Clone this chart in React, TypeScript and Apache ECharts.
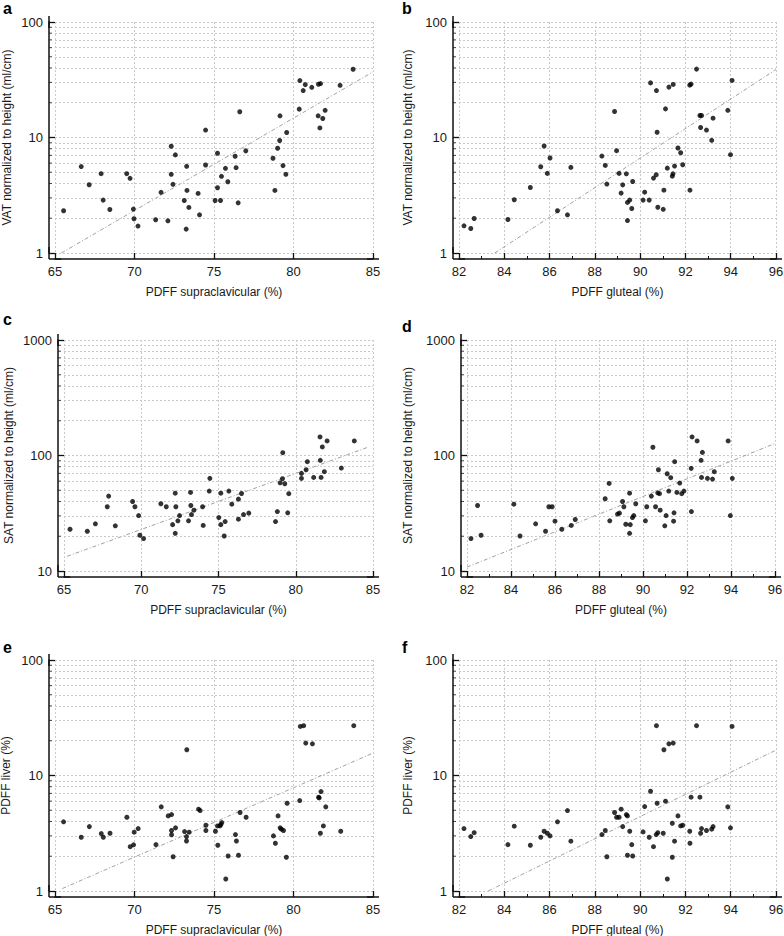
import React, { useEffect, useRef } from 'react';
import * as echarts from 'echarts';

const FONT = '"Liberation Sans", Arial, Helvetica, sans-serif';

// ---- Panel a: PDFF supraclavicular vs VAT ----
const aX = [65.54, 66.65, 67.15, 67.9, 68.03, 68.45, 69.51, 69.72, 69.93, 69.97, 70.22, 71.33, 71.67, 72.1, 72.31, 72.31, 72.42, 72.57, 73.13, 73.28, 73.3, 73.25, 73.42, 74.0, 74.09, 74.47, 74.47, 75.07, 75.22, 75.22, 75.41, 75.47, 75.72, 75.87, 76.33, 76.39, 76.52, 76.62, 77.0, 78.71, 78.83, 79.0, 79.13, 79.15, 79.34, 79.52, 79.57, 80.36, 80.4, 80.61, 80.74, 81.15, 81.55, 81.57, 81.7, 81.66, 81.84, 81.99, 82.93, 83.75];
const aY = [2.32, 5.6, 3.9, 4.86, 2.87, 2.38, 4.86, 4.43, 2.4, 1.98, 1.71, 1.94, 3.35, 1.9, 8.4, 4.8, 3.93, 7.07, 2.85, 5.63, 3.48, 1.61, 2.48, 3.28, 2.14, 11.6, 5.78, 2.85, 7.31, 3.67, 2.85, 4.61, 5.41, 4.14, 6.88, 5.48, 2.72, 16.7, 7.66, 6.61, 3.48, 8.07, 9.42, 15.4, 5.71, 4.8, 11.05, 17.6, 31.1, 25.5, 28.7, 27.2, 15.4, 28.9, 29.3, 12.1, 14.6, 17.2, 28.3, 39.0];
const aFitX = [65.4, 85];
const aFitY = [1.0, 37];

// ---- Panel b: PDFF gluteal vs VAT ----
const bX = [82.22, 82.52, 82.67, 84.16, 84.44, 85.15, 85.61, 85.76, 85.9, 86.02, 86.35, 86.79, 86.94, 88.31, 88.46, 88.53, 88.87, 88.96, 89.07, 89.16, 89.23, 89.39, 89.44, 89.44, 89.54, 89.67, 89.63, 90.13, 90.2, 90.4, 90.46, 90.59, 90.71, 90.72, 90.75, 90.78, 91.02, 91.05, 91.12, 91.2, 91.27, 91.42, 91.45, 91.46, 91.52, 91.67, 91.79, 91.88, 92.19, 92.2, 92.25, 92.49, 92.64, 92.67, 92.71, 92.93, 93.16, 93.22, 93.87, 93.99, 94.06];
const bY = [1.72, 1.63, 1.99, 1.95, 2.89, 3.69, 5.58, 8.44, 4.89, 6.64, 2.32, 2.14, 5.51, 6.91, 5.73, 3.95, 16.8, 7.69, 4.89, 3.3, 3.89, 4.85, 2.74, 1.91, 2.87, 4.16, 2.43, 2.87, 3.36, 2.87, 29.7, 4.45, 4.76, 25.5, 11.1, 2.49, 2.39, 3.5, 17.7, 5.43, 27.3, 4.63, 4.85, 28.8, 5.66, 8.11, 7.38, 5.81, 28.4, 3.5, 29.0, 39.1, 15.5, 12.2, 15.5, 11.6, 9.45, 14.7, 17.2, 7.1, 31.2];
const bFitX = [83.58, 96];
const bFitY = [1.0, 38.8];

// ---- Panel c: PDFF supraclavicular vs SAT ----
const cX = [65.39, 66.51, 67.03, 67.8, 67.89, 68.32, 69.44, 69.59, 69.83, 69.91, 70.15, 71.27, 71.62, 72.03, 72.2, 72.24, 72.2, 72.37, 72.48, 73.06, 73.19, 73.21, 73.25, 73.41, 73.97, 74.01, 74.4, 74.44, 75.02, 75.15, 75.15, 75.37, 75.43, 75.67, 75.86, 76.29, 76.29, 76.49, 76.62, 76.96, 78.69, 78.81, 78.99, 79.14, 79.16, 79.29, 79.48, 79.55, 80.37, 80.37, 80.67, 80.75, 81.16, 81.57, 81.59, 81.64, 81.72, 81.85, 82.03, 82.95, 83.79];
const cY = [23.0, 22.1, 25.6, 36.0, 44.5, 24.6, 40.0, 36.0, 30.2, 20.4, 19.1, 38.2, 36.0, 25.2, 47.2, 36.0, 21.2, 27.2, 30.2, 27.2, 47.9, 36.9, 30.8, 33.6, 36.0, 24.8, 49.2, 63.4, 29.0, 47.2, 25.2, 20.1, 26.8, 49.2, 37.9, 28.1, 41.9, 46.9, 30.8, 31.7, 26.8, 32.7, 58.0, 62.9, 105.8, 56.9, 31.9, 46.7, 63.4, 70.0, 75.3, 88.4, 64.6, 144.8, 90.8, 64.6, 118.6, 72.4, 133.7, 77.8, 133.7];
const cFitX = [65.2, 84.6];
const cFitY = [13.4, 117];

// ---- Panel d: PDFF gluteal vs SAT ----
const dX = [82.18, 82.48, 82.64, 84.13, 84.41, 85.12, 85.57, 85.72, 85.87, 86.0, 86.31, 86.74, 86.92, 88.28, 88.46, 88.49, 88.84, 88.93, 89.07, 89.13, 89.22, 89.39, 89.42, 89.39, 89.52, 89.58, 89.67, 90.11, 90.17, 90.38, 90.45, 90.57, 90.67, 90.7, 90.75, 90.78, 90.99, 91.05, 91.1, 91.17, 91.26, 91.39, 91.41, 91.44, 91.54, 91.67, 91.76, 91.86, 92.19, 92.2, 92.23, 92.46, 92.64, 92.66, 92.7, 92.93, 93.16, 93.24, 93.87, 93.97, 94.06];
const dY = [19.1, 36.9, 20.4, 37.9, 20.1, 25.6, 22.1, 36.0, 36.0, 27.0, 23.0, 24.8, 27.9, 42.2, 57.3, 27.2, 31.1, 31.7, 40.0, 36.0, 25.4, 47.2, 25.2, 21.2, 29.0, 30.2, 38.2, 27.2, 36.0, 44.5, 117.8, 36.0, 47.5, 75.3, 46.7, 33.6, 24.6, 30.2, 69.5, 49.2, 64.3, 27.0, 31.9, 88.4, 47.9, 57.7, 46.7, 49.2, 77.4, 32.7, 144.8, 133.7, 90.8, 64.6, 106.4, 63.4, 62.5, 72.4, 133.7, 30.2, 63.4];
const dFitX = [82.0, 96];
const dFitY = [10.8, 127];

// ---- Panel e: PDFF supraclavicular vs PDFF liver ----
const eX = [65.54, 66.65, 67.16, 67.91, 68.04, 68.46, 69.52, 69.73, 69.94, 69.98, 70.23, 71.35, 71.68, 72.12, 72.33, 72.33, 72.33, 72.43, 72.58, 73.15, 73.29, 73.27, 73.27, 73.44, 74.03, 74.13, 74.49, 74.49, 75.09, 75.24, 75.22, 75.37, 75.43, 75.49, 75.74, 75.89, 76.54, 76.64, 76.35, 76.41, 77.02, 78.74, 78.86, 79.03, 79.16, 79.24, 79.37, 79.55, 79.6, 80.39, 80.43, 80.64, 80.77, 81.19, 81.58, 81.61, 81.73, 81.69, 81.88, 82.03, 82.97, 83.79];
const eY = [3.97, 2.92, 3.61, 3.14, 2.92, 3.16, 4.35, 2.42, 2.51, 3.23, 3.47, 2.52, 5.35, 4.47, 4.59, 3.34, 3.07, 1.98, 3.52, 3.27, 16.7, 2.96, 2.71, 3.23, 5.11, 4.97, 3.71, 3.34, 3.29, 2.49, 3.66, 3.66, 3.76, 3.91, 1.27, 2.01, 2.04, 4.78, 3.08, 2.71, 4.35, 3.0, 2.59, 4.47, 3.52, 3.43, 3.34, 1.96, 5.75, 6.07, 26.6, 27.0, 19.1, 18.8, 6.49, 6.4, 7.26, 3.16, 3.66, 5.35, 3.29, 27.0];
const eFitX = [65.46, 84.94];
const eFitY = [1.05, 15.5];

// ---- Panel f: PDFF gluteal vs PDFF liver ----
const fX = [82.22, 82.52, 82.67, 84.16, 84.44, 85.15, 85.61, 85.76, 85.9, 86.02, 86.35, 86.79, 86.94, 88.31, 88.46, 88.53, 88.87, 88.96, 89.07, 89.16, 89.23, 89.39, 89.44, 89.44, 89.54, 89.63, 89.67, 90.13, 90.2, 90.4, 90.46, 90.59, 90.71, 90.72, 90.75, 90.78, 91.02, 91.05, 91.12, 91.2, 91.27, 91.42, 91.42, 91.46, 91.52, 91.67, 91.79, 91.88, 92.19, 92.2, 92.25, 92.49, 92.64, 92.67, 92.71, 92.93, 93.16, 93.22, 93.87, 93.99, 94.06];
const fY = [3.47, 2.96, 3.2, 2.52, 3.64, 2.49, 2.92, 3.29, 3.16, 3.0, 3.97, 4.97, 2.7, 3.08, 3.34, 1.98, 4.78, 4.35, 4.35, 5.11, 3.61, 4.59, 4.47, 2.04, 3.29, 2.52, 2.01, 3.25, 5.38, 2.92, 7.31, 2.42, 3.08, 27.0, 5.75, 3.2, 3.16, 16.7, 5.99, 1.27, 18.8, 3.86, 1.96, 19.1, 2.7, 4.47, 3.66, 3.71, 3.29, 2.59, 6.49, 27.0, 6.49, 3.16, 3.47, 3.34, 3.43, 3.61, 5.35, 3.52, 26.6];
const fFitX = [83.29, 96];
const fFitY = [1.0, 16.6];

// ---- Axis ranges / labels ----
const supraRange = [65, 85];
const supraStep = 5;
const glutealRange = [82, 96];
const glutealStep = 2;
const vatRange = [1, 100];
const satRange = [10, 1000];
const liverRange = [1, 100];
const xNameSupra = 'PDFF supraclavicular (%)';
const xNameGluteal = 'PDFF gluteal (%)';
const yNameVat = 'VAT normalized to height (ml/cm)';
const yNameSat = 'SAT normalized to height (ml/cm)';
const yNameLiver = 'PDFF liver (%)';
const panelLetters = ['a', 'b', 'c', 'd', 'e', 'f'];

const panels = [
  { x: aX, y: aY, fx: aFitX, fy: aFitY, xr: supraRange, xs: supraStep, yr: vatRange, xn: xNameSupra, yn: yNameVat, minor: false,
    grid: { left: 55, top: 22, width: 318, height: 231 }, yGap: 36, lx: 3, ly: 16 },
  { x: bX, y: bY, fx: bFitX, fy: bFitY, xr: glutealRange, xs: glutealStep, yr: vatRange, xn: xNameGluteal, yn: yNameVat, minor: true,
    grid: { left: 459, top: 22, width: 317, height: 231 }, yGap: 39, lx: 402, ly: 16 },
  { x: cX, y: cY, fx: cFitX, fy: cFitY, xr: supraRange, xs: supraStep, yr: satRange, xn: xNameSupra, yn: yNameSat, minor: false,
    grid: { left: 64, top: 340, width: 309, height: 231 }, yGap: 43, lx: 3, ly: 327 },
  { x: dX, y: dY, fx: dFitX, fy: dFitY, xr: glutealRange, xs: glutealStep, yr: satRange, xn: xNameGluteal, yn: yNameSat, minor: true,
    grid: { left: 467, top: 340, width: 308, height: 231 }, yGap: 47, lx: 402, ly: 334 },
  { x: eX, y: eY, fx: eFitX, fy: eFitY, xr: supraRange, xs: supraStep, yr: liverRange, xn: xNameSupra, yn: yNameLiver, minor: false,
    grid: { left: 55, top: 660, width: 318, height: 231 }, yGap: 37, lx: 3, ly: 655 },
  { x: fX, y: fY, fx: fFitX, fy: fFitY, xr: glutealRange, xs: glutealStep, yr: liverRange, xn: xNameGluteal, yn: yNameLiver, minor: true,
    grid: { left: 459, top: 660, width: 317, height: 231 }, yGap: 39, lx: 402, ly: 655 },
];

const TEXT = '#1a1a1a';
const AXIS = '#111';
const GRIDC = '#c9c9c9';

function minorValues(range: number[]) {
  const out: number[] = [];
  for (let d = range[0]; d < range[1]; d *= 10) {
    for (let k = 2; k <= 9; k++) out.push(d * k);
  }
  return out;
}

export default function App() {
  const ref = useRef<HTMLDivElement>(null);
  useEffect(() => {
    if (!ref.current) return;
    const chart = echarts.init(ref.current, undefined, { renderer: 'svg' });
    const axisLine = {
      show: true,
      onZero: false,
      symbol: ['rect', 'rect'],
      symbolSize: [1.5, 12],
      lineStyle: { color: AXIS, width: 1.5 },
    };
    const splitLine = { show: true, lineStyle: { color: GRIDC, type: [2, 2], width: 1 } };
    const series: any[] = [];
    panels.forEach((p, i) => {
      series.push({
        type: 'scatter',
        xAxisIndex: i,
        yAxisIndex: i,
        data: p.x.map((v, k) => [v, p.y[k]]),
        symbol: 'circle',
        symbolSize: 5,
        itemStyle: { color: '#000' },
        z: 5,
        silent: true,
      });
      series.push({
        type: 'line',
        xAxisIndex: i,
        yAxisIndex: i,
        data: p.fx.map((v, k) => [v, p.fy[k]]),
        showSymbol: false,
        symbol: 'none',
        lineStyle: { color: '#a0a0a0', width: 1, type: [4, 2, 1, 2] },
        z: 4,
        silent: true,
      });
      const mv = minorValues(p.yr);
      series.push({
        type: 'scatter',
        xAxisIndex: i,
        yAxisIndex: i,
        data: mv.map((v) => [p.xr[0], v]),
        symbol: 'rect',
        symbolSize: [3, 1],
        symbolOffset: [-4.5, 0],
        itemStyle: { color: AXIS },
        clip: false,
        silent: true,
        z: 6,
        markLine: {
          silent: true,
          symbol: 'none',
          label: { show: false },
          lineStyle: { color: GRIDC, type: [2, 2], width: 1 },
          data: mv.map((v) => ({ yAxis: v })),
          animation: false,
        },
      });
    });
    const option: any = {
      animation: false,
      grid: panels.map((p) => ({ ...p.grid, containLabel: false, outerBoundsMode: 'none' })),
      xAxis: panels.map((p, i) => ({
        gridIndex: i,
        type: 'value',
        min: p.xr[0],
        max: p.xr[1],
        interval: p.xs,
        offset: 6,
        axisLine,
        axisTick: { show: true, inside: true, length: 6, lineStyle: { color: AXIS, width: 1.3 } },
        minorTick: { show: p.minor, splitNumber: 2, length: 3, lineStyle: { color: AXIS, width: 1 } },
        axisLabel: { margin: 6, fontSize: 13, color: TEXT, fontFamily: FONT },
        splitLine,
        name: p.xn,
        nameLocation: 'middle',
        nameGap: 27,
        nameTextStyle: { fontSize: 12, color: TEXT, fontFamily: FONT },
      })),
      yAxis: panels.map((p, i) => ({
        gridIndex: i,
        type: 'log',
        logBase: 10,
        min: p.yr[0],
        max: p.yr[1],
        offset: 6,
        axisLine,
        axisTick: { show: true, inside: true, length: 6, lineStyle: { color: AXIS, width: 1.3 } },
        axisLabel: {
          margin: 6,
          fontSize: 13,
          color: TEXT,
          fontFamily: FONT,
          formatter: (v: number) => String(Math.round(v)),
        },
        splitLine,
        name: p.yn,
        nameLocation: 'middle',
        nameGap: p.yGap,
        nameTextStyle: { fontSize: 12, color: TEXT, fontFamily: FONT },
      })),
      series,
      graphic: panels.map((p, i) => ({
        type: 'text',
        x: p.lx,
        y: p.ly,
        style: {
          text: panelLetters[i],
          font: `bold 16px ${FONT}`,
          fill: '#000',
          textVerticalAlign: 'bottom',
        },
      })),
    };
    chart.setOption(option);
    return () => chart.dispose();
  }, []);
  return (
    <div
      ref={ref}
      style={{ position: 'absolute', left: 0, top: 0, width: 784, height: 936, background: '#fff' }}
    />
  );
}
